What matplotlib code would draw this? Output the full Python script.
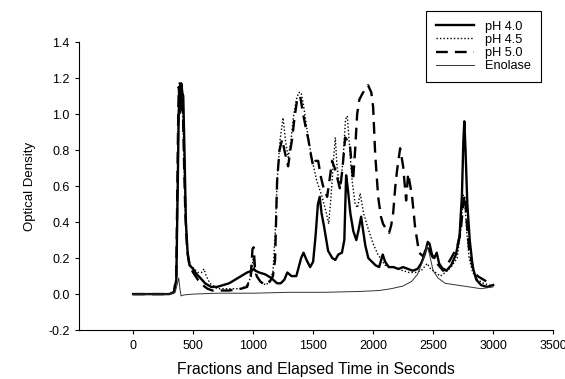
import matplotlib
matplotlib.use('Agg')
import matplotlib.pyplot as plt

plt.rcParams['font.family'] = ['Liberation Sans', 'DejaVu Sans']

########
# DATA
########
ph40_x = [0, 100, 200, 300, 340, 360, 372, 380, 388, 395, 402, 410, 418, 428, 440, 455, 470, 500, 530, 560,
          600, 650, 700, 750, 800, 850, 900, 950, 990, 1005, 1020, 1050, 1100, 1150, 1200, 1230, 1260, 1285, 1320, 1360,
          1400, 1420, 1445, 1475, 1500, 1520, 1540, 1555, 1570, 1590, 1625, 1660, 1685, 1710, 1740, 1760, 1775, 1790, 1810, 1835,
          1860, 1880, 1900, 1915, 1935, 1960, 1990, 2020, 2050, 2080, 2100, 2130, 2170, 2210, 2250, 2290, 2330, 2370, 2400, 2430,
          2455, 2470, 2490, 2510, 2530, 2550, 2580, 2610, 2650, 2690, 2720, 2740, 2752, 2760, 2770, 2785, 2805, 2830, 2860, 2900,
          2950, 3000]
ph40_y = [0.0, 0.0, 0.0, 0.0, 0.01, 0.08, 0.6, 1.0, 1.15, 1.05, 1.17, 1.12, 1.1, 0.8, 0.4, 0.22, 0.16, 0.14, 0.11, 0.09,
          0.06, 0.04, 0.04, 0.05, 0.06, 0.08, 0.1, 0.12, 0.13, 0.14, 0.13, 0.12, 0.11, 0.09, 0.06, 0.06, 0.08, 0.12, 0.1, 0.1,
          0.2, 0.23, 0.19, 0.15, 0.18, 0.32, 0.5, 0.54, 0.45, 0.38, 0.24, 0.2, 0.19, 0.22, 0.23, 0.3, 0.66, 0.58, 0.45, 0.35,
          0.3, 0.36, 0.43, 0.36, 0.27, 0.2, 0.18, 0.16, 0.15, 0.22, 0.18, 0.15, 0.15, 0.14, 0.15, 0.14, 0.13, 0.14, 0.17, 0.22,
          0.29, 0.28, 0.22, 0.2, 0.23, 0.17, 0.14, 0.13, 0.16, 0.22, 0.32, 0.55, 0.85, 0.96, 0.8, 0.5, 0.3, 0.15, 0.08, 0.05,
          0.04, 0.05]

ph45_x = [0, 300, 340, 360, 372, 380, 386, 394, 402, 410, 420, 432, 445, 460, 480, 510, 540, 570, 590, 610,
          640, 700, 800, 900, 950, 985, 1000, 1010, 1025, 1050, 1080, 1110, 1140, 1165, 1185, 1200, 1225, 1250, 1270, 1292,
          1315, 1335, 1360, 1380, 1400, 1420, 1450, 1490, 1530, 1575, 1610, 1630, 1650, 1670, 1685, 1700, 1725, 1750, 1770, 1785,
          1800, 1825, 1850, 1870, 1892, 1920, 1960, 2000, 2040, 2100, 2150, 2200, 2250, 2300, 2350, 2400, 2450, 2480, 2520, 2560,
          2600, 2650, 2700, 2730, 2750, 2765, 2780, 2800, 2830, 2870, 2920, 2970, 3000]
ph45_y = [0.0, 0.0, 0.01, 0.08, 0.7, 1.1, 1.18, 1.0, 1.15, 1.05, 0.85, 0.5, 0.3, 0.2, 0.16, 0.14, 0.12, 0.12, 0.14, 0.1,
          0.06, 0.03, 0.03, 0.03, 0.05, 0.1, 0.2, 0.15, 0.1, 0.08, 0.06, 0.05, 0.08, 0.12, 0.35, 0.63, 0.86, 0.98, 0.85, 0.76,
          0.85, 0.98, 1.08, 1.12, 1.12, 1.05, 0.91, 0.75, 0.63, 0.54, 0.45, 0.39, 0.55, 0.75, 0.87, 0.7, 0.58, 0.75, 0.97, 0.99,
          0.85, 0.63, 0.5, 0.48, 0.56, 0.45, 0.36, 0.28, 0.22, 0.16, 0.15, 0.14, 0.13, 0.12, 0.12, 0.13, 0.17, 0.14, 0.12, 0.1,
          0.12, 0.15, 0.2, 0.35, 0.55, 0.5, 0.35, 0.2, 0.12, 0.08, 0.06, 0.05, 0.05]

ph50_x = [0, 300, 340, 360, 372, 380, 388, 396, 404, 412, 422, 435, 450, 470, 500, 540, 580, 620, 660, 700,
          800, 900, 950, 980, 995, 1005, 1015, 1030, 1060, 1100, 1140, 1165, 1183, 1200, 1220, 1242, 1267, 1292, 1310, 1325,
          1345, 1367, 1392, 1417, 1440, 1460, 1480, 1500, 1520, 1542, 1565, 1583, 1617, 1640, 1658, 1680, 1700, 1725, 1745, 1767,
          1790, 1808, 1833, 1850, 1867, 1885, 1908, 1935, 1958, 1985, 2000, 2017, 2042, 2065, 2083, 2110, 2133, 2150, 2167, 2185,
          2200, 2225, 2250, 2275, 2292, 2310, 2325, 2350, 2383, 2417, 2450, 2492, 2533, 2583, 2642, 2700, 2730, 2750, 2765, 2780,
          2800, 2830, 2870, 2920, 2970, 3000]
ph50_y = [0.0, 0.0, 0.01, 0.1, 0.8, 1.15, 1.05, 1.17, 1.0, 1.1, 0.8, 0.45, 0.25, 0.16, 0.12, 0.08, 0.05, 0.03, 0.02, 0.02,
          0.02, 0.03, 0.04, 0.1, 0.25, 0.26, 0.15, 0.1, 0.07, 0.05, 0.07, 0.1, 0.19, 0.63, 0.8, 0.86, 0.78, 0.71, 0.8, 0.86,
          0.98, 1.08, 1.1, 1.0, 0.92, 0.86, 0.78, 0.71, 0.74, 0.74, 0.65, 0.6, 0.54, 0.65, 0.74, 0.7, 0.65, 0.58, 0.7, 0.87,
          0.85, 0.82, 0.63, 0.8, 1.0, 1.08, 1.11, 1.14, 1.16, 1.12, 1.04, 0.78, 0.54, 0.43, 0.39, 0.36, 0.34, 0.38, 0.45, 0.6,
          0.69, 0.81, 0.71, 0.52, 0.67, 0.6, 0.54, 0.37, 0.23, 0.21, 0.27, 0.21, 0.17, 0.13, 0.19, 0.26, 0.35, 0.5, 0.55, 0.4,
          0.25, 0.15, 0.1, 0.08, 0.06, 0.05]

enol_x = [0, 300, 350, 370, 380, 390, 400, 420, 500, 700, 1000, 1300, 1600, 1900, 2050,
          2150, 2250, 2320, 2370, 2400, 2430, 2450, 2470, 2500, 2540, 2600, 2700, 2800, 2900, 3000]
enol_y = [0.0, 0.0, 0.01, 0.06, 0.09, 0.03, -0.01, -0.005, 0.0, 0.005, 0.005, 0.01, 0.01, 0.015, 0.02,
          0.03, 0.045, 0.07, 0.11, 0.16, 0.22, 0.27, 0.22, 0.13, 0.09, 0.06, 0.05, 0.04, 0.03, 0.04]

x_ticks = [0, 500, 1000, 1500, 2000, 2500, 3000, 3500]
y_ticks = [-0.2, 0.0, 0.2, 0.4, 0.6, 0.8, 1.0, 1.2, 1.4]

#######
# PLOT
#######
fig = plt.figure(figsize=(5.65, 3.79), dpi=100)
ax = fig.add_axes([0.140, 0.129, 0.839, 0.760])

ax.plot(ph40_x, ph40_y, color='black', lw=1.7, ls='-', label='pH 4.0')
ax.plot(ph45_x, ph45_y, color='black', lw=1.0, ls=(0, (1, 1.5)), label='pH 4.5')
ax.plot(ph50_x, ph50_y, color='black', lw=1.7, ls=(0, (5, 3)), label='pH 5.0')
ax.plot(enol_x, enol_y, color='#333333', lw=0.7, ls='-', label='Enolase')

ax.set_xlim(-450, 3500)
ax.set_ylim(-0.2, 1.4)
ax.set_xticks(x_ticks)
ax.set_yticks(y_ticks)
ax.set_yticklabels(['%.1f' % v for v in y_ticks])
ax.spines['top'].set_visible(False)
ax.spines['right'].set_visible(False)
ax.tick_params(direction='out', length=3, width=0.8, labelsize=9, pad=4)

ax.set_xlabel('Fractions and Elapsed Time in Seconds', fontsize=11.3, labelpad=7)
ax.set_ylabel('Optical Density', fontsize=9.5, labelpad=9)

leg = ax.legend(loc='upper left', bbox_to_anchor=(426 / 565, 1 - 11 / 379),
                bbox_transform=fig.transFigure, fontsize=9.2, frameon=True,
                fancybox=False, borderpad=0.75, labelspacing=0.1, handlelength=3.0,
                handletextpad=0.9, borderaxespad=0)
leg.get_frame().set_edgecolor('black')
leg.get_frame().set_linewidth(0.8)
leg.get_frame().set_alpha(1.0)

fig.savefig('out.png', dpi=100)
